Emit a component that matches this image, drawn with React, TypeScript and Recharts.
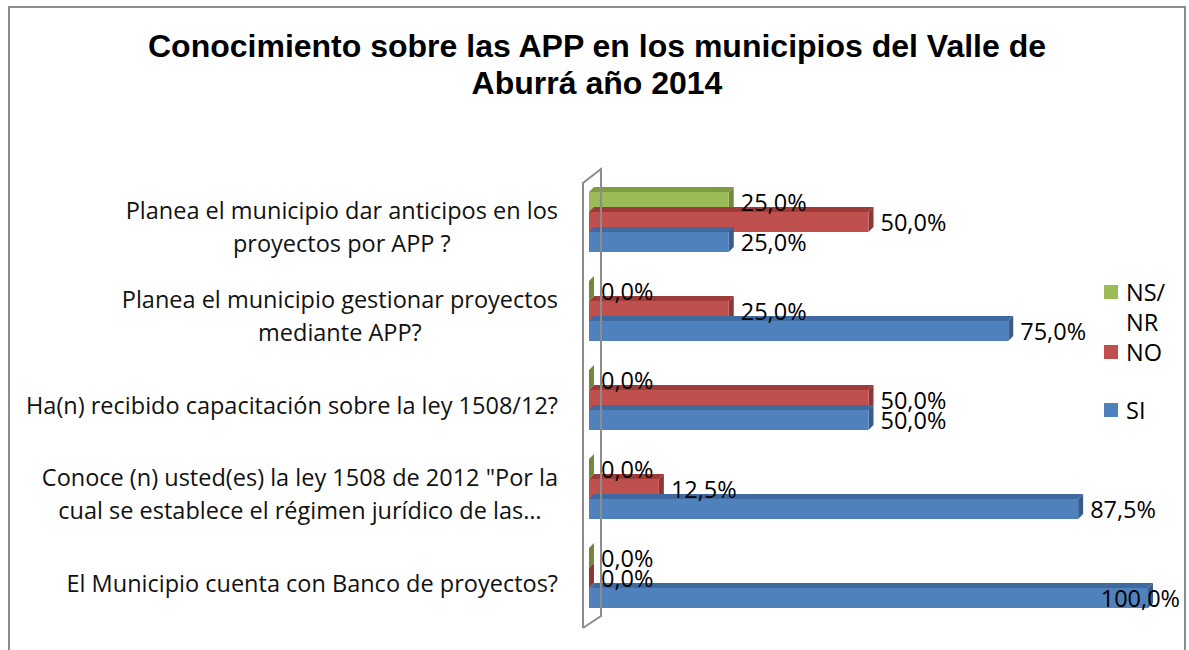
import { BarChart, Bar, XAxis, YAxis, LabelList, ReferenceLine } from "recharts";

const titleLines = ["Conocimiento sobre las APP en los municipios del Valle de", "Aburrá año 2014"];

const categories = [
  "Planea el municipio dar anticipos en los proyectos por APP ?",
  "Planea el municipio gestionar proyectos mediante APP?",
  "Ha(n) recibido capacitación sobre la ley 1508/12?",
  "Conoce (n) usted(es) la ley 1508 de 2012 \"Por la cual se establece el régimen jurídico de las…",
  "El Municipio cuenta con Banco de proyectos?",
];

// tick labels as Excel wraps them
const categoryLines = [
  ["Planea el municipio dar anticipos en los", "proyectos por APP ?"],
  ["Planea el municipio gestionar proyectos", "mediante APP?"],
  ["Ha(n) recibido capacitación sobre la ley 1508/12?"],
  ["Conoce (n) usted(es) la ley 1508 de 2012 \"Por la", "cual se establece el régimen jurídico de las…"],
  ["El Municipio cuenta con Banco de proyectos?"],
];

const siValues = [25, 75, 50, 87.5, 100];
const noValues = [50, 25, 50, 12.5, 0];
const nsnrValues = [25, 0, 0, 0, 0];

const seriesNames = ["NS/NR", "NO", "SI"];

const data = categories.map((c, i) => ({
  name: c,
  "NS/NR": nsnrValues[i],
  NO: noValues[i],
  SI: siValues[i],
}));

const COLORS: Record<string, [string, string, string]> = {
  // front, top, side
  "NS/NR": ["#9BBB59", "#7E9C42", "#71893F"],
  NO: ["#C0504D", "#9E3B39", "#8C3836"],
  SI: ["#4F81BD", "#3E6A9F", "#385D8A"],
};

const LABEL_FONT = "'Open Sans', sans-serif";
const FS = 23.5;
const DEPTH = 5;

let ctx: CanvasRenderingContext2D | null = null;
const measure = (text: string, font: string) => {
  if (!ctx) ctx = document.createElement("canvas").getContext("2d");
  if (!ctx) return text.length * 11;
  ctx.font = font;
  return ctx.measureText(text).width;
};

const fmt = (v: number) => `${v.toFixed(1).replace(".", ",")}%`;

const bar3d = (key: string) => (props: any) => {
  const { x, y, width, height } = props;
  const w = Math.max(0, width);
  const [front, top, side] = COLORS[key];
  return (
    <g>
      <polygon
        points={`${x},${y} ${x + DEPTH},${y - DEPTH} ${x + w + DEPTH},${y - DEPTH} ${x + w},${y}`}
        fill={top}
      />
      <polygon
        points={`${x + w},${y} ${x + w + DEPTH},${y - DEPTH} ${x + w + DEPTH},${y + height - DEPTH} ${x + w},${y + height}`}
        fill={side}
      />
      {w > 0 && <rect x={x} y={y} width={w} height={height} fill={front} />}
    </g>
  );
};

const ValueLabel = (props: any) => {
  const { x, y, width, height, value } = props;
  const text = fmt(value);
  const tw = measure(text, `${FS}px ${LABEL_FONT}`);
  let lx = x + width + 12;
  if (lx + tw > 1180) lx = 1180 - tw;
  return (
    <text x={lx} y={y + height / 2 + 3} dominantBaseline="middle" fontSize={FS} fontFamily={LABEL_FONT} fill="#000">
      {text}
    </text>
  );
};

const CategoryTick = (props: any) => {
  const { x, y, payload } = props;
  const lines = categoryLines[payload.index] ?? [String(payload.value)];
  const font = `${FS}px ${LABEL_FONT}`;
  const maxW = Math.max(...lines.map((l) => measure(l, font)));
  const right = x - 31;
  const cx = right - maxW / 2;
  const lh = 33;
  const startY = y + 8 - ((lines.length - 1) * lh) / 2;
  return (
    <g>
      {lines.map((l, i) => (
        <text
          key={i}
          x={cx}
          y={startY + i * lh}
          textAnchor="middle"
          dominantBaseline="middle"
          fontSize={FS}
          fontFamily={LABEL_FONT}
          fill="#111"
        >
          {l}
        </text>
      ))}
    </g>
  );
};

const Wall = (props: any) => {
  const { x1, y1, y2 } = props;
  const top = Math.min(y1, y2);
  const bottom = Math.max(y1, y2);
  const fx = x1 - 6;
  const bx = x1 + 12;
  return (
    <polyline
      points={`${fx},${bottom + 6} ${fx},${top + 6} ${bx},${top - 8} ${bx},${bottom - 6} ${fx},${bottom + 6}`}
      fill="none"
      stroke="#8C8C8C"
      strokeWidth={2}
    />
  );
};

const ChartLegend = () => (
  <div
    style={{
      position: "absolute",
      left: 1104,
      top: 277,
      width: 80,
      fontFamily: LABEL_FONT,
      fontSize: FS,
      color: "#000",
    }}
  >
    {seriesNames.map((n) => {
      const parts = n === "NS/NR" ? ["NS/", "NR"] : [n];
      return (
        <div key={n} style={{ display: "flex", alignItems: "flex-start", minHeight: 58 }}>
          <div
            style={{ width: 14, height: 14, background: COLORS[n][0], marginTop: 8, marginRight: 8, flex: "none" }}
          />
          <div style={{ lineHeight: "30px" }}>
            {parts.map((p) => (
              <div key={p}>{p}</div>
            ))}
          </div>
        </div>
      );
    })}
  </div>
);

export default function App() {
  return (
    <div
      style={{
        position: "fixed",
        left: 0,
        top: 0,
        width: 1189,
        height: 650,
        background: "#fff",
        overflow: "hidden",
      }}
    >
      <div
        style={{
          position: "absolute",
          left: 8,
          top: 6,
          width: 1178,
          height: 660,
          border: "2px solid #8C8C8C",
          boxSizing: "border-box",
        }}
      />
      <div
        style={{
          position: "absolute",
          left: 0,
          top: 28,
          width: 1194,
          textAlign: "center",
          fontFamily: "'Liberation Sans', Arial, sans-serif",
          fontWeight: "bold",
          fontSize: 32,
          lineHeight: "37px",
          color: "#000",
        }}
      >
        {titleLines.map((t) => (
          <div key={t}>{t}</div>
        ))}
      </div>
      <BarChart
        width={1189}
        height={650}
        data={data}
        layout="vertical"
        margin={{ top: 177, right: 41, bottom: 28, left: 0 }}
        barSize={20}
        barGap={0}
        style={{ position: "absolute", left: 0, top: 0 }}
      >
        <XAxis type="number" domain={[0, 100]} hide />
        <YAxis
          type="category"
          dataKey="name"
          width={589}
          axisLine={false}
          tickLine={false}
          tickSize={0}
          tickMargin={0}
          interval={0}
          tick={<CategoryTick />}
        />
        <ReferenceLine x={0} shape={<Wall />} />
        {seriesNames.map((n) => (
          <Bar key={n} dataKey={n} name={n} fill={COLORS[n][0]} shape={bar3d(n)} isAnimationActive={false}>
            <LabelList dataKey={n} content={<ValueLabel />} />
          </Bar>
        ))}
      </BarChart>
      <ChartLegend />
    </div>
  );
}
